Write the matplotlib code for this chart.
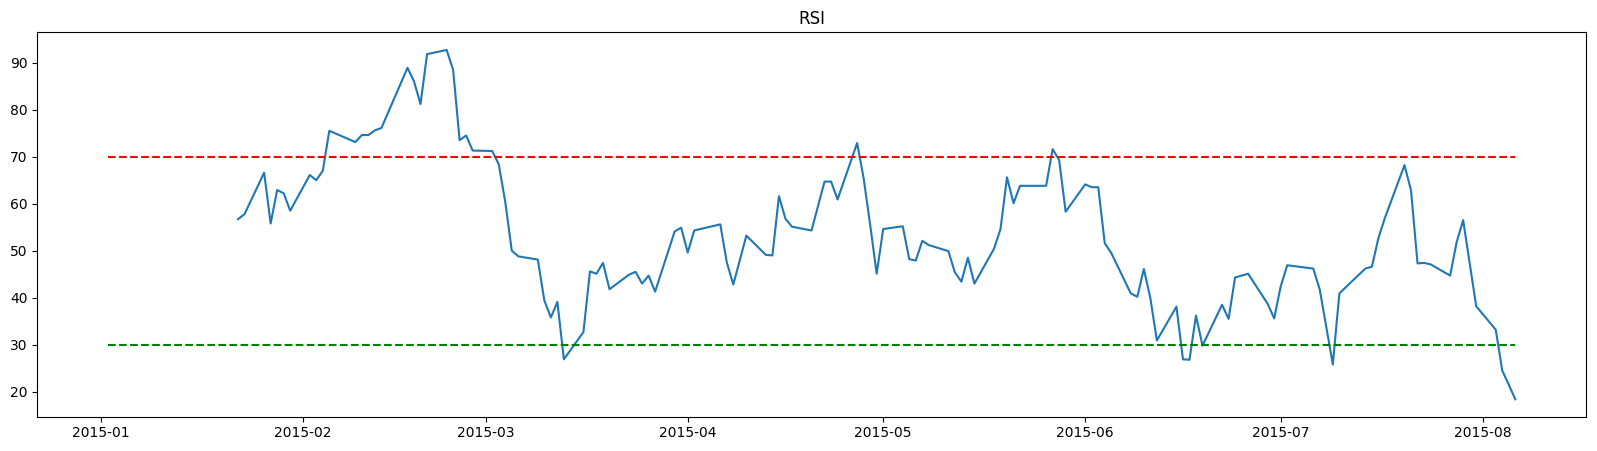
import numpy as np
import pandas as pd
import matplotlib.pyplot as plt

# US trading days, 2015-01-02 ~ 2015-08-06
holidays = ['2015-01-19', '2015-02-16', '2015-04-03', '2015-05-25', '2015-07-03']
dates = pd.bdate_range('2015-01-02', '2015-08-06', freq='C', holidays=holidays)

warmup = 13  # first 13 days have no RSI yet

rsi_jan = [56.7, 57.8, 66.6, 55.8, 62.9, 62.2, 58.5]
rsi_feb = [66.1, 65.0, 67.0, 75.5, 74.9, 73.1, 74.6, 74.6, 75.6, 76.1,
           88.9, 86.0, 81.2, 91.8, 92.7, 88.5, 73.5, 74.5, 71.3]
rsi_mar = [71.2, 68.4, 60.4, 50.0, 48.8, 48.1, 39.4, 35.8, 39.1, 26.9,
           32.7, 45.6, 45.1, 47.4, 41.8, 44.9, 45.5, 43.0, 44.7, 41.3,
           54.1, 54.9]
rsi_apr = [49.6, 54.3, 55.6, 47.5, 42.8, 48.0, 53.2, 49.1, 49.0, 61.6,
           56.8, 55.1, 54.3, 59.5, 64.7, 64.7, 60.9, 72.9, 65.4, 55.5,
           45.1]
rsi_may = [54.6, 55.2, 48.2, 47.9, 52.1, 51.2, 49.9, 45.4, 43.4, 48.5,
           43.0, 50.4, 54.6, 65.6, 60.1, 63.8, 63.8, 71.6, 69.3, 58.3]
rsi_jun = [64.1, 63.5, 63.5, 51.6, 49.5, 40.9, 40.2, 46.1, 39.9, 30.9,
           38.1, 26.9, 26.8, 36.2, 29.8, 38.5, 35.5, 44.3, 44.7, 45.1,
           38.7, 35.6]
rsi_jul = [42.4, 46.9, 46.2, 41.7, 33.8, 25.8, 40.9, 44.9, 46.2, 46.6,
           52.7, 57.0, 68.2, 62.8, 47.3, 47.4, 47.1, 44.7, 51.8, 56.5,
           47.3, 38.2]
rsi_aug = [33.2, 24.5, 21.5, 18.4]

rsi_values = [np.nan] * warmup + rsi_jan + rsi_feb + rsi_mar + rsi_apr + rsi_may + rsi_jun + rsi_jul + rsi_aug
rsi = pd.Series(rsi_values, index=dates)

overbought = 70
oversold = 30

fig = plt.figure(figsize=(15.97, 4.51), dpi=100)
plt.plot(rsi.index, rsi.values)
plt.hlines(overbought, rsi.index[0], rsi.index[-1], colors='r', linestyles='--')
plt.hlines(oversold, rsi.index[0], rsi.index[-1], colors='g', linestyles='--')
plt.title('RSI')
plt.subplots_adjust(left=0.0234, right=0.9929, bottom=0.076, top=0.928)
plt.savefig('out.png')
